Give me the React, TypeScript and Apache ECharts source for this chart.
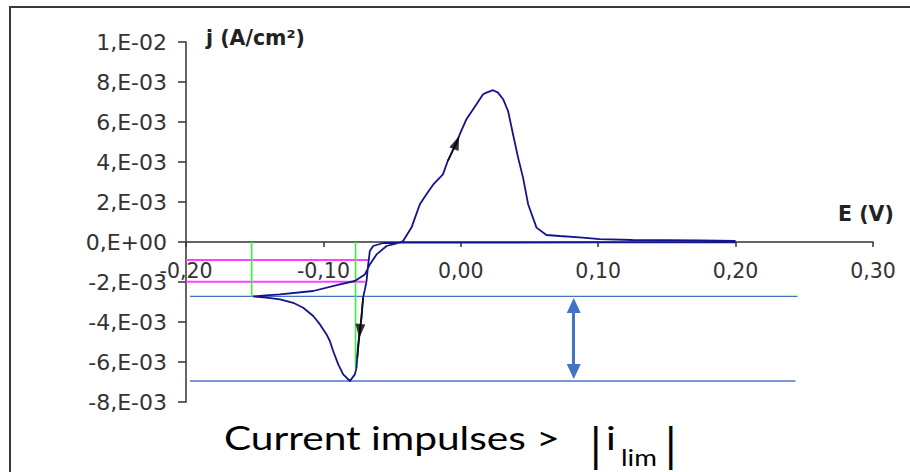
import React, { useEffect, useRef } from 'react';
import * as echarts from 'echarts';

// Axis ticks
const xMin = -0.2;
const xMax = 0.3;
const xStep = 0.1;
const xTickLabels = ['-0,20', '-0,10', '0,00', '0,10', '0,20', '0,30'];
const yMin = -0.008;
const yMax = 0.01;
const yStep = 0.002;
const yTickLabels = ['-8,E-03', '-6,E-03', '-4,E-03', '-2,E-03', '0,E+00', '2,E-03', '4,E-03', '6,E-03', '8,E-03', '1,E-02'];

// Cyclic voltammogram, in sweep order (E in V, j in A/cm²)
const sweepE = [
  0.200, 0.100, 0.000, -0.042, -0.0565, -0.0638, -0.0662, -0.0674, -0.0686, -0.0698,
  -0.0711, -0.0722, -0.0735, -0.0747, -0.0759, -0.0771, -0.0807, -0.0856, -0.0892, -0.0929,
  -0.0953, -0.0977, -0.1025, -0.1074, -0.1147, -0.1220, -0.1316, -0.1413, -0.1513,
  -0.1418, -0.1316, -0.1074, -0.0880, -0.0771, -0.0698, -0.0662, -0.0613, -0.0540, -0.0444,
  -0.0420, -0.0359, -0.0298, -0.0250, -0.0200, -0.0130, -0.0095, -0.0031, -0.0007, 0.0041, 0.0114,
  0.0162, 0.0187, 0.0235, 0.0271, 0.0308, 0.0344, 0.0380, 0.0417, 0.0453, 0.0490, 0.0551, 0.0623,
  0.0720, 0.0887, 0.1010, 0.1250, 0.1740, 0.2000,
];
const sweepJ = [
  -0.00002, -0.00002, -0.00003, -0.00003, -0.00005, -0.0002, -0.00045, -0.00112, -0.00195, -0.00237,
  -0.00278, -0.00378, -0.00445, -0.00512, -0.00628, -0.00662, -0.00695, -0.00662, -0.00612, -0.00545,
  -0.00495, -0.00462, -0.00412, -0.0037, -0.00329, -0.00304, -0.00287, -0.00278, -0.00272,
  -0.00267, -0.00262, -0.00245, -0.00212, -0.00195, -0.00162, -0.00112, -0.00062, -0.0002, -0.00003,
  0.00005, 0.00072, 0.00189, 0.00239, 0.00288, 0.00338, 0.00405, 0.00497, 0.00539, 0.00614, 0.00689,
  0.00739, 0.00747, 0.00759, 0.00747, 0.00714, 0.00655, 0.00539, 0.00422, 0.00322, 0.00189, 0.00072, 0.00035,
  0.0003, 0.00022, 0.00014, 0.0001, 0.000085, 0.00005,
];

// Sweep direction arrows: [E, j, direction in degrees]
const arrowUp = [-0.0031, 0.00497, -22];
const arrowDown = [-0.0735, -0.00445, 175];
const shaftUpE = [-0.0095, -0.0031];
const shaftUpJ = [0.00405, 0.00497];
const shaftDownE = [-0.0711, -0.0753];
const shaftDownJ = [-0.00278, -0.0058];

// Reference lines
const greenE = [-0.1522, -0.0766];
const greenJ = [-0.00272, -0.0063];
const magentaJ = [-0.0009, -0.00199];
const magentaEndE = [-0.0676, -0.0698];
const limitJ = [-0.00272, -0.00695];
const limitStartE = -0.1971;
const limitEndE = [0.2451, 0.2436];
const impulseE = 0.0822;
const impulseJ = [-0.00318, -0.00648];

const seg = (x1: number, y1: number, x2: number, y2: number) => [[x1, y1], [x2, y2]];

export default function App() {
  const ref = useRef<HTMLDivElement>(null);
  useEffect(() => {
    if (!ref.current) return;
    const chart = echarts.init(ref.current, undefined, { renderer: 'svg' });
    const labelFont = 'DejaVu Sans';
    const gridTop = 42;
    const gridBottom = 70;
    const gridH = 472 - gridTop - gridBottom;
    const zeroOffset = -((0 - yMin) / (yMax - yMin)) * gridH;
    const refLine = (data: number[][], color: string, width: number, extra: any = {}) => ({
      type: 'line',
      data,
      showSymbol: false,
      symbol: 'none',
      silent: true,
      lineStyle: { color, width },
      z: 1,
      ...extra,
    });
    const capFont = 'Lato';
    const capText = (text: string, x: number, y: number, size: number, sx: number) => ({
      type: 'text',
      x,
      y,
      scaleX: sx,
      silent: true,
      style: { text, fontFamily: capFont, fontSize: size, fill: '#000', verticalAlign: 'middle' },
    });
    chart.setOption({
      animation: false,
      backgroundColor: '#ffffff',
      grid: { left: 186, right: 37, top: gridTop, bottom: gridBottom, containLabel: false },
      xAxis: {
        type: 'value',
        min: xMin,
        max: xMax,
        interval: xStep,
        position: 'bottom',
        offset: zeroOffset,
        axisLine: { onZero: false, lineStyle: { color: '#333', width: 1.5 } },
        axisTick: { show: true, length: 5, lineStyle: { color: '#333', width: 1.5 } },
        splitLine: { show: false },
        axisLabel: {
          margin: 18,
          color: '#333',
          fontFamily: labelFont,
          fontSize: 20.5,
          hideOverlap: false,
          formatter: (v: number) => xTickLabels[Math.round((v - xMin) / xStep)] ?? '',
        },
      },
      yAxis: {
        type: 'value',
        min: yMin,
        max: yMax,
        interval: yStep,
        axisLine: { show: true, onZero: false, lineStyle: { color: '#333', width: 1.5 } },
        axisTick: { show: true, length: 8, lineStyle: { color: '#333', width: 1.5 } },
        splitLine: { show: false },
        axisLabel: {
          margin: 19,
          color: '#333',
          fontFamily: labelFont,
          fontSize: 22,
          hideOverlap: false,
          formatter: (v: number) => yTickLabels[Math.round((v - yMin) / yStep)] ?? '',
        },
      },
      graphic: [
        {
          type: 'rect',
          shape: { x: 10, y: 7, width: 940, height: 520 },
          style: { fill: 'none', stroke: '#3a3a3a', lineWidth: 2 },
          silent: true,
        },
        {
          type: 'text',
          x: 206,
          y: 38,
          style: {
            text: 'j (A/cm²)',
            fontFamily: labelFont,
            fontWeight: 'bold',
            fontSize: 20.5,
            fill: '#222',
            verticalAlign: 'middle',
          },
        },
        {
          type: 'text',
          x: 838,
          y: 214,
          style: {
            text: 'E (V)',
            fontFamily: labelFont,
            fontWeight: 'bold',
            fontSize: 20.5,
            fill: '#222',
            verticalAlign: 'middle',
          },
        },
        capText('Current impulses >', 224, 438, 32, 1.27),
        capText('|', 590, 444, 46, 1),
        capText('i', 606, 438, 32, 1.27),
        capText('lim', 621, 457, 23, 1.2),
        capText('|', 665, 444, 46, 1),
      ],
      series: [
        refLine(seg(limitStartE, limitJ[0], limitEndE[0], limitJ[0]), '#4472c4', 1.2, {
          markLine: {
            silent: true,
            symbol: ['triangle', 'triangle'],
            symbolSize: [14, 15],
            label: { show: false },
            lineStyle: { color: '#4472c4', width: 3, type: 'solid' },
            data: [[{ coord: [impulseE, impulseJ[0]] }, { coord: [impulseE, impulseJ[1]] }]],
          },
        }),
        refLine(seg(limitStartE, limitJ[1], limitEndE[1], limitJ[1]), '#7a98d8', 2),
        refLine(seg(xMin, magentaJ[0], magentaEndE[0], magentaJ[0]), '#ff40ff', 2),
        refLine(seg(xMin, magentaJ[1], magentaEndE[1], magentaJ[1]), '#ff40ff', 2),
        refLine(seg(greenE[0], 0, greenE[0], greenJ[0]), '#3ef03e', 1.6),
        refLine(seg(greenE[1], 0, greenE[1], greenJ[1]), '#3ef03e', 1.6),
        {
          type: 'line',
          data: sweepE.map((e, i) => [e, sweepJ[i]]),
          showSymbol: false,
          symbol: 'none',
          smooth: false,
          lineStyle: { color: '#14148c', width: 1.8 },
          z: 3,
        },
        refLine(shaftUpE.map((e, i) => [e, shaftUpJ[i]]), '#111', 1.6, { z: 4 }),
        refLine(shaftDownE.map((e, i) => [e, shaftDownJ[i]]), '#111', 1.6, { z: 4 }),
        {
          type: 'scatter',
          data: [
            { value: [arrowUp[0], arrowUp[1]], symbolRotate: arrowUp[2] },
            { value: [arrowDown[0], arrowDown[1]], symbolRotate: arrowDown[2] },
          ],
          symbol: 'triangle',
          symbolSize: [10, 14],
          itemStyle: { color: '#000' },
          silent: true,
          z: 5,
        },
      ],
    });
    return () => chart.dispose();
  }, []);
  return (
    <div
      ref={ref}
      style={{ position: 'fixed', left: 0, top: 0, width: 910, height: 472, background: '#fff' }}
    />
  );
}
